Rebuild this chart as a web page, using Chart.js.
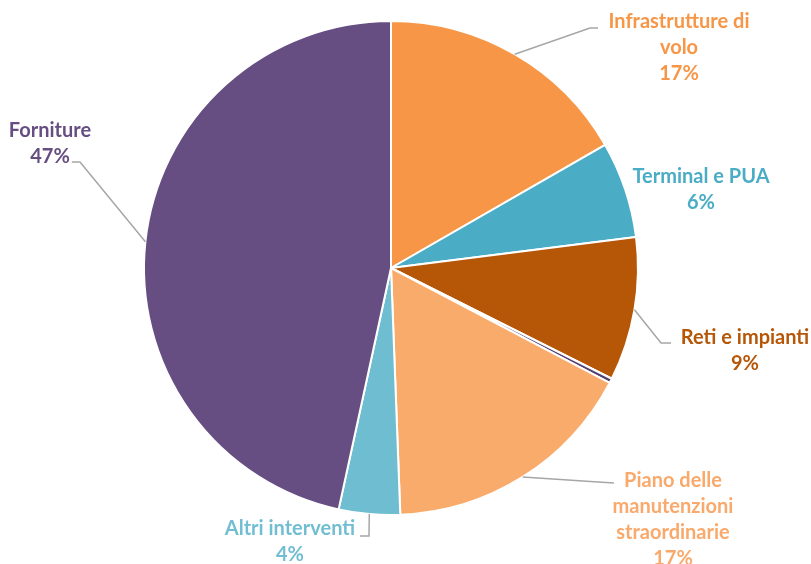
<!DOCTYPE html>
<html>
<head>
<meta charset="utf-8">
<script src="https://cdn.jsdelivr.net/npm/chart.js@4/dist/chart.umd.min.js"></script>
<style>
  html, body { margin: 0; padding: 0; background: #fff; }
  #wrap { width: 811px; height: 564px; position: relative; }
</style>
</head>
<body>
<div id="wrap"><canvas id="c"></canvas></div>
<script>
// slice names (label lines), values in percent, colours
const categories = [
  ['Infrastrutture di', 'volo'],
  ['Terminal e PUA'],
  ['Reti e impianti'],
  [],
  ['Piano delle', 'manutenzioni', 'straordinarie'],
  ['Altri interventi'],
  ['Forniture']
];
const values = [16.7, 6.3, 9.4, 0.3, 16.7, 4.0, 46.6];
const colors = ['#F79646', '#4BACC6', '#B65708', '#54416F', '#F9AB6B', '#6FBDD1', '#664E82'];
const textColors = ['#F79646', '#4BACC6', '#B65708', '#54416F', '#F9A96B', '#71BED3', '#664E82'];

// where each label sits and how its leader line bends (null = no leader)
const labelLayout = [
  { x: 679, y: 22, leader: [[590, 28], [598, 28]] },
  { x: 701, y: 177, leader: null },
  { x: 745, y: 338, leader: [[661, 343], [671, 343]] },
  null,
  { x: 673, y: 481, leader: [[598, 482], [614, 483]] },
  { x: 290, y: 529, leader: [[369, 536], [360, 536]] },
  { x: 50, y: 131, leader: [[80, 162], [72, 162]] }
];

const labelPlugin = {
  id: 'sliceLabels',
  afterDatasetsDraw(chart) {
    const ctx = chart.ctx;
    const meta = chart.getDatasetMeta(0);
    const total = values.reduce((a, b) => a + b, 0);
    ctx.save();
    meta.data.forEach((arc, i) => {
      const lay = labelLayout[i];
      if (!lay) return;
      const p = arc.getProps(['x', 'y', 'startAngle', 'endAngle', 'outerRadius'], true);
      const mid = (p.startAngle + p.endAngle) / 2;
      if (lay.leader) {
        ctx.strokeStyle = '#A6A6A6';
        ctx.lineWidth = 1.5;
        ctx.beginPath();
        ctx.moveTo(p.x + Math.cos(mid) * p.outerRadius, p.y + Math.sin(mid) * p.outerRadius);
        lay.leader.forEach(pt => ctx.lineTo(pt[0], pt[1]));
        ctx.stroke();
      }
      const lines = categories[i].concat([Math.round(values[i] / total * 100) + '%']);
      ctx.fillStyle = textColors[i];
      ctx.font = 'bold 20px Lato, "Open Sans", sans-serif';
      ctx.textAlign = 'center';
      ctx.textBaseline = 'middle';
      lines.forEach((t, k) => ctx.fillText(t, lay.x, lay.y + k * 26));
    });
    ctx.restore();
  }
};

new Chart(document.getElementById('c'), {
  type: 'pie',
  data: {
    labels: categories.map(c => c.join(' ')),
    datasets: [{
      data: values,
      backgroundColor: colors,
      borderColor: '#ffffff',
      borderWidth: 2
    }]
  },
  options: {
    responsive: true,
    maintainAspectRatio: false,
    animation: false,
    layout: { padding: { left: 143, right: 172, top: 20, bottom: 48 } },
    plugins: { legend: { display: false }, tooltip: { enabled: false } }
  },
  plugins: [labelPlugin]
});
</script>
</body>
</html>
